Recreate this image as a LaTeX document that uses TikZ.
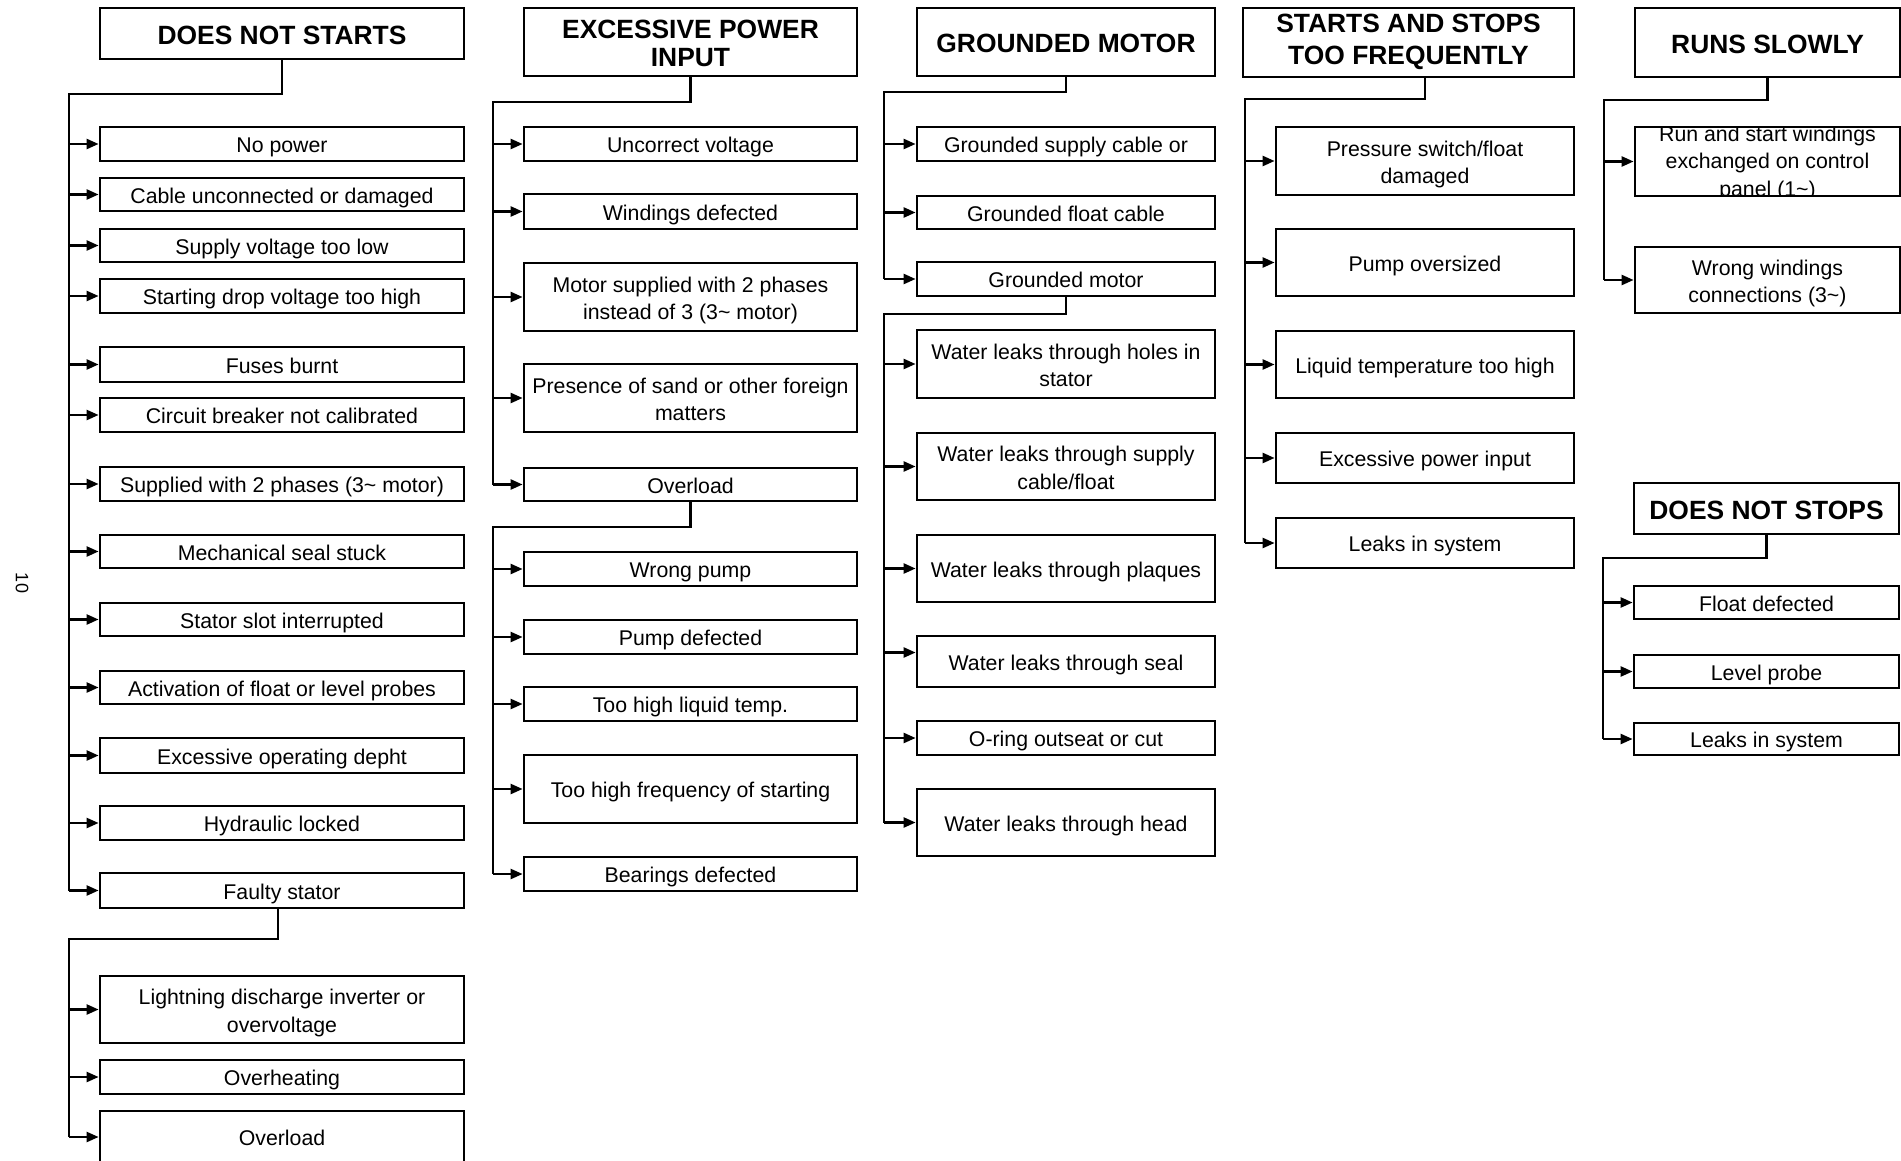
\documentclass[tikz,border=0pt]{standalone}
\usepackage{fontspec}
\setmainfont{Liberation Sans}
\usetikzlibrary{arrows.meta,calc}
\newcommand\topstrut{\rule[-0.21em]{0pt}{1.22em}}
\newcommand\tl{\rule{0pt}{11.3pt}}
\newcommand\botstrut{\rule[-0.21em]{0pt}{0.21em}}
% #1 style, #2 name, #3 x1, #4 y1, #5 x2, #6 y2, #7 text
\newcommand\mybox[7]{\node[#1, minimum width={(#5-#3)*0.5pt}, minimum height={(#6-#4)*0.5pt}] (#2) at ({(#3+#5)/2},{(#4+#6)/2}) {#7};}
\begin{document}
\begin{tikzpicture}[x=0.5pt,y=-0.5pt,
  txt/.style={font=\fontsize{10.65pt}{13.75pt}\selectfont},
  box/.style={draw, line width=1.4pt, inner sep=1pt, align=center, txt,
    execute at begin node={\topstrut}, execute at end node={\botstrut}},
  box2/.style={box, execute at begin node={}, execute at end node={}},
  hdr/.style={box, font=\bfseries\fontsize{13.2pt}{14pt}\selectfont,
    execute at begin node={}, execute at end node={}},
  conn/.style={line width=1.2pt},
  arr/.style={line width=1.2pt, -{Triangle[length=6pt,width=5pt]}}]
\useasboundingbox (0,0) rectangle (1901,1161);
\clip (0,0) rectangle (1901,1161);
\fill[white] (0,0) rectangle (1901,1161);

\node[rotate=-90, font=\fontsize{9pt}{10pt}\selectfont] (pg) at (22,583) {10};

% ---------- Column 1 ----------
\mybox{hdr}{h1}{100}{8}{464}{59}{DOES NOT STARTS}
\mybox{box}{a1}{100}{127}{464}{161}{No power}
\mybox{box}{a2}{100}{178}{464}{211}{Cable unconnected or damaged}
\mybox{box}{a3}{100}{229}{464}{262}{Supply voltage too low}
\mybox{box}{a4}{100}{279}{464}{313}{Starting drop voltage too high}
\mybox{box}{a5}{100}{347}{464}{382}{Fuses burnt}
\mybox{box}{a6}{100}{398}{464}{432}{Circuit breaker not calibrated}
\mybox{box}{a7}{100}{467}{464}{501}{Supplied with 2 phases (3\textasciitilde{} motor)}
\mybox{box}{a8}{100}{535}{464}{568}{Mechanical seal stuck}
\mybox{box}{a9}{100}{603}{464}{636}{Stator slot interrupted}
\mybox{box}{a10}{100}{671}{464}{704}{Activation of float or level probes}
\mybox{box}{a11}{100}{738}{464}{773}{Excessive operating depht}
\mybox{box}{a12}{100}{806}{464}{840}{Hydraulic locked}
\mybox{box}{a13}{100}{873}{464}{908}{Faulty stator}
\mybox{box2}{a14}{100}{976}{464}{1043}{\tl Lightning discharge inverter or\\overvoltage}
\mybox{box}{a15}{100}{1060}{464}{1094}{Overheating}
\mybox{box}{a16}{100}{1111}{464}{1163}{Overload}

\coordinate (j1) at (69,94);
\draw[conn] (h1.south) |- (j1) -- (j1 |- a13.west);
\foreach \n in {a1,a2,a3,a4,a5,a6,a7,a8,a9,a10,a11,a12,a13}
  \draw[arr] (j1 |- \n.west) -- (\n.west);
\coordinate (j1b) at (69,939);
\draw[conn] ([xshift=-2pt]a13.south) |- (j1b) -- (j1b |- a16.west);
\foreach \n in {a14,a15,a16}
  \draw[arr] (j1b |- \n.west) -- (\n.west);

% ---------- Column 2 ----------
\mybox{hdr}{h2}{524}{8}{857}{76}{\rule{0pt}{13pt}EXCESSIVE POWER\\INPUT}
\mybox{box}{b1}{524}{127}{857}{161}{Uncorrect voltage}
\mybox{box}{b2}{524}{194}{857}{229}{Windings defected}
\mybox{box2}{b3}{524}{263}{857}{331}{\tl Motor supplied with 2 phases\\instead of 3 (3\textasciitilde{} motor)}
\mybox{box2}{b4}{524}{364}{857}{432}{\tl Presence of sand or other foreign\\matters}
\mybox{box}{b5}{524}{468}{857}{501}{Overload}
\mybox{box}{b6}{524}{552}{857}{586}{Wrong pump}
\mybox{box}{b7}{524}{620}{857}{654}{Pump defected}
\mybox{box}{b8}{524}{687}{857}{721}{Too high liquid temp.}
\mybox{box}{b9}{524}{755}{857}{823}{Too high frequency of starting}
\mybox{box}{b10}{524}{857}{857}{891}{Bearings defected}

\coordinate (j2) at (493,102);
\draw[conn] (h2.south) |- (j2) -- (j2 |- b5.west);
\foreach \n in {b1,b2,b3,b4,b5}
  \draw[arr] (j2 |- \n.west) -- (\n.west);
\coordinate (j2b) at (493,527);
\draw[conn] (b5.south) |- (j2b) -- (j2b |- b10.west);
\foreach \n in {b6,b7,b8,b9,b10}
  \draw[arr] (j2b |- \n.west) -- (\n.west);

% ---------- Column 3 ----------
\mybox{hdr}{h3}{917}{8}{1215}{76}{GROUNDED MOTOR}
\mybox{box}{c1}{917}{127}{1215}{161}{Grounded supply cable or}
\mybox{box}{c2}{917}{196}{1215}{229}{Grounded float cable}
\mybox{box}{c3}{917}{262}{1215}{296}{Grounded motor}
\mybox{box2}{c4}{917}{330}{1215}{398}{\tl Water leaks through holes in\\stator}
\mybox{box2}{c5}{917}{433}{1215}{500}{\tl Water leaks through supply\\cable/float}
\mybox{box}{c6}{917}{535}{1215}{602}{Water leaks through plaques}
\mybox{box}{c7}{917}{636}{1215}{687}{Water leaks through seal}
\mybox{box}{c8}{917}{721}{1215}{755}{O-ring outseat or cut}
\mybox{box}{c9}{917}{789}{1215}{856}{Water leaks through head}

\coordinate (j3) at (884,92);
\draw[conn] (h3.south) |- (j3) -- (j3 |- c3.west);
\foreach \n in {c1,c2,c3}
  \draw[arr] (j3 |- \n.west) -- (\n.west);
\coordinate (j3b) at (884,314);
\draw[conn] (c3.south) |- (j3b) -- (j3b |- c9.west);
\foreach \n in {c4,c5,c6,c8,c9}
  \draw[arr] (j3b |- \n.west) -- (\n.west);
\draw[arr] ($(j3b |- c7.west)+(0,-9)$) -- ($(c7.west)+(0,-9)$);

% ---------- Column 4 ----------
\mybox{hdr, font=\bfseries\fontsize{13.2pt}{16pt}\selectfont}{h4}{1243}{8}{1574}{77}{STARTS AND STOPS\\TOO FREQUENTLY}
\mybox{box2}{d1}{1276}{127}{1574}{195}{\tl Pressure switch/float\\damaged}
\mybox{box}{d2}{1276}{229}{1574}{296}{Pump oversized}
\mybox{box}{d3}{1276}{331}{1574}{398}{Liquid temperature too high}
\mybox{box}{d4}{1276}{433}{1574}{483}{Excessive power input}
\mybox{box}{d5}{1276}{518}{1574}{568}{Leaks in system}

\coordinate (j4) at (1245,99);
\draw[conn] (h4.south -| d1.north) |- (j4) -- (j4 |- d5.west);
\foreach \n in {d1,d2,d3,d4,d5}
  \draw[arr] (j4 |- \n.west) -- (\n.west);

% ---------- Column 5 ----------
\mybox{hdr}{h5}{1635}{8}{1900}{77}{RUNS SLOWLY}
\mybox{box, execute at begin node={}, execute at end node={}, path picture={\node[txt, align=center] at ([yshift=-1pt]path picture bounding box.center) {Run and start windings\\exchanged on control\\panel (1\textasciitilde)};}}{e1}{1635}{127}{1900}{196}{}
\mybox{box2}{e2}{1635}{247}{1900}{313}{\tl Wrong windings\\connections (3\textasciitilde)}

\coordinate (j5) at (1604,100);
\draw[conn] (h5.south) |- (j5) -- (j5 |- e2.west);
\foreach \n in {e1,e2}
  \draw[arr] (j5 |- \n.west) -- (\n.west);

\mybox{hdr}{h6}{1634}{483}{1899}{534}{DOES NOT STOPS}
\mybox{box}{f1}{1634}{586}{1899}{619}{Float defected}
\mybox{box}{f2}{1634}{655}{1899}{688}{Level probe}
\mybox{box}{f3}{1634}{723}{1899}{755}{Leaks in system}

\coordinate (j6) at (1603,558);
\draw[conn] (h6.south) |- (j6) -- (j6 |- f3.west);
\foreach \n in {f1,f2,f3}
  \draw[arr] (j6 |- \n.west) -- (\n.west);
\end{tikzpicture}
\end{document}
